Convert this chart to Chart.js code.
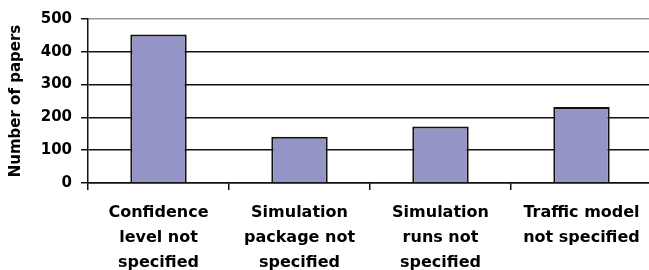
<!DOCTYPE html>
<html>
<head>
<meta charset="utf-8">
<script src="https://cdn.jsdelivr.net/npm/chart.js@4"></script>
<style>
  html, body { margin: 0; padding: 0; background: #fff; overflow: hidden; }
  #wrap { width: 652px; height: 270px; }
</style>
</head>
<body>
<div id="wrap"><canvas id="chart"></canvas></div>
<script>
const categories = [
    ['Confidence', 'level not', 'specified'],
    ['Simulation', 'package not', 'specified'],
    ['Simulation', 'runs not', 'specified'],
    ['Traffic model', 'not specified']
];
const papers = [453, 141, 172, 232];
const yTicks = [0, 100, 200, 300, 400, 500];

const labelFont = { family: 'DejaVu Sans', weight: 'bold', size: 15 };

const ctx = document.getElementById('chart');
const myChart = new Chart(ctx, {
    type: 'bar',
    data: {
        labels: categories,
        datasets: [{
            label: 'Number of papers',
            data: papers,
            backgroundColor: '#9494c6',
            borderColor: '#111',
            borderWidth: 2,
            categoryPercentage: 1,
            barPercentage: 0.4
        }]
    },
    options: {
        responsive: true,
        maintainAspectRatio: false,
        animation: false,
        layout: { padding: { top: 19, right: 0, bottom: 0, left: 0 } },
        plugins: {
            legend: { display: false },
            tooltip: { enabled: false }
        },
        scales: {
            x: {
                offset: true,
                grid: {
                    offset: true,
                    drawOnChartArea: false,
                    tickLength: 7,
                    tickColor: '#111',
                    lineWidth: 1.5
                },
                border: { color: '#111', width: 1.5 },
                ticks: {
                    color: '#000',
                    padding: 10,
                    maxRotation: 0,
                    autoSkip: false,
                    font: { ...labelFont, size: 16, lineHeight: '25px' }
                },
                afterFit: (scale) => { scale.height = 87; }
            },
            y: {
                min: 0,
                max: 500,
                afterBuildTicks: (scale) => {
                    scale.ticks = yTicks.map(v => ({ value: v }));
                },
                grid: {
                    color: (c) => c.tick && c.tick.value === 500 ? '#999' : '#111',
                    lineWidth: 1.5,
                    tickLength: 7,
                    tickColor: '#111'
                },
                border: { color: '#111', width: 1.5 },
                ticks: {
                    color: '#000',
                    padding: 9,
                    font: { ...labelFont, lineHeight: 1.2 }
                },
                title: {
                    display: true,
                    text: 'Number of papers',
                    color: '#000',
                    font: { ...labelFont, lineHeight: 1.2 },
                    padding: { top: 7, bottom: 0 }
                },
                afterFit: (scale) => { scale.width = 88; }
            }
        }
    }
});
</script>
</body>
</html>
